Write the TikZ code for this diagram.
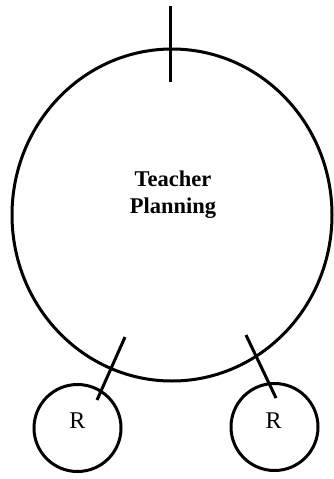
\documentclass[tikz,border=0pt]{standalone}
\usepackage{fontspec}
\setmainfont{Liberation Serif}
\usetikzlibrary{shapes.geometric}
\tikzset{
  bigring/.style={draw,ellipse,line width=3pt,inner sep=0pt,
    minimum width=320pt,minimum height=332pt},
  ringtext/.style={align=center,inner sep=0pt,
    font=\fontsize{22.5}{27}\selectfont\bfseries},
  smallring/.style={draw,circle,line width=3pt,inner sep=0pt,
    minimum size=87pt},
  rtext/.style={inner sep=0pt,font=\fontsize{24}{26}\selectfont},
  tick/.style={line width=3pt}
}

\begin{document}
\begin{tikzpicture}[x=1pt,y=-1pt]
  \useasboundingbox (0,0) rectangle (334,479);
  \node[bigring] (plan) at (172,215) {};
  \node[ringtext] (plantext) at (173,195) {Teacher\\Planning};
  \node[smallring] (rl) at (77.5,428) {};
  \node[smallring] (rr) at (274.5,427) {};
  \node[rtext] (rltext) at (77.5,421) {R};
  \node[rtext] (rrtext) at (273.5,421) {R};
  % ticks
  \coordinate (tt) at (170,6);
  \coordinate (tb) at (170,82);
  \coordinate (la) at (125,337);
  \coordinate (lb) at (97,400);
  \coordinate (ra) at (246,335);
  \coordinate (rb) at (276,398);
  \draw[tick] (tt) -- (tb);
  \draw[tick] (la) -- (lb);
  \draw[tick] (ra) -- (rb);
\end{tikzpicture}
\end{document}
